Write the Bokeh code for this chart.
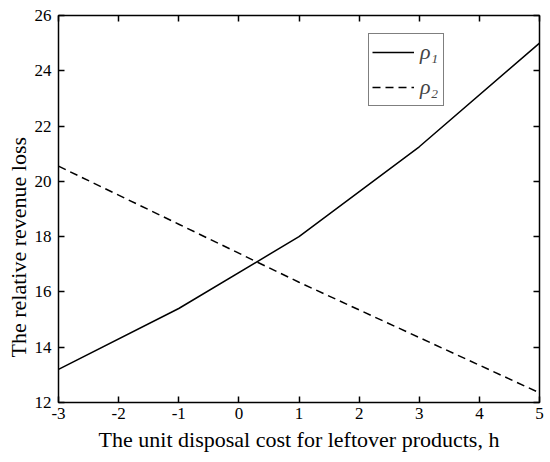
from bokeh.plotting import figure
from bokeh.models import LinearAxis, Legend, LegendItem, FixedTicker, Range1d, PrintfTickFormatter, Title
from bokeh.embed import file_html
from bokeh.resources import INLINE

h = [-3, -1, 1, 3, 5]
rho1 = [13.2, 15.4, 18.0, 21.25, 25.0]
rho2 = [20.55, 18.45, 16.35, 14.35, 12.35]
x_ticks = [-3, -2, -1, 0, 1, 2, 3, 4, 5]
y_ticks = [12, 14, 16, 18, 20, 22, 24, 26]
x_label = "The unit disposal cost for leftover products, h"
y_label = "The relative revenue loss"

FONT = "'Liberation Serif', serif"

p = figure(frame_width=481, frame_height=387, output_backend="svg", toolbar_location=None,
           x_range=Range1d(-3, 5), y_range=Range1d(12, 26),
           min_border_left=58, min_border_top=15, min_border_right=8, min_border_bottom=58,
           x_axis_label=x_label)
p.grid.visible = False
p.outline_line_color = "black"
p.outline_line_width = 1.5
p.background_fill_color = "white"
p.border_fill_color = "white"

l1 = p.line(h, rho1, line_color="black", line_width=1.5)
l2 = p.line(h, rho2, line_color="black", line_width=1.5, line_dash="8 5")

p.add_layout(LinearAxis(), "above")
p.add_layout(LinearAxis(), "right")

for ax in p.xaxis:
    ax.ticker = FixedTicker(ticks=x_ticks)
for ax in p.yaxis:
    ax.ticker = FixedTicker(ticks=y_ticks)

for ax in p.axis:
    ax.formatter = PrintfTickFormatter(format="%d")
    ax.major_tick_in = 6
    ax.major_tick_out = 0
    ax.minor_tick_in = 0
    ax.minor_tick_out = 0
    ax.axis_line_color = None
    ax.major_tick_line_color = "black"
    ax.major_tick_line_width = 1.5
    ax.major_label_text_font = FONT
    ax.major_label_text_font_size = "17px"
    ax.major_label_text_color = "black"
    ax.axis_label_text_font = FONT
    ax.axis_label_text_font_size = "22px"
    ax.axis_label_text_font_style = "normal"
    ax.axis_label_text_color = "black"

for ax in (p.above[0], p.right[0]):
    ax.major_label_text_font_size = "0px"
    ax.major_label_text_color = None
    ax.major_label_standoff = 0

p.xaxis[0].major_label_standoff = 10
p.xaxis[0].axis_label_standoff = 7
p.yaxis[0].major_label_standoff = 7

ytitle = Title(text=y_label, align="left", offset=45, standoff=2,
               text_font=FONT, text_font_size="22px", text_font_style="normal",
               text_color="black")
p.add_layout(ytitle, "left")

legend = Legend(items=[LegendItem(label="ρ₁", renderers=[l1]),
                       LegendItem(label="ρ₂", renderers=[l2])],
                location=(310, 296))
legend.border_line_color = "black"
legend.border_line_width = 1.2
legend.label_text_font = FONT
legend.label_text_font_size = "22px"
legend.label_text_font_style = "italic"
legend.glyph_width = 42
legend.glyph_height = 30
legend.label_height = 30
legend.spacing = 5
legend.padding = 3
legend.margin = 0
legend.label_standoff = 6
legend.background_fill_alpha = 1
p.add_layout(legend)

open("out.html", "w").write(file_html(p, INLINE))
